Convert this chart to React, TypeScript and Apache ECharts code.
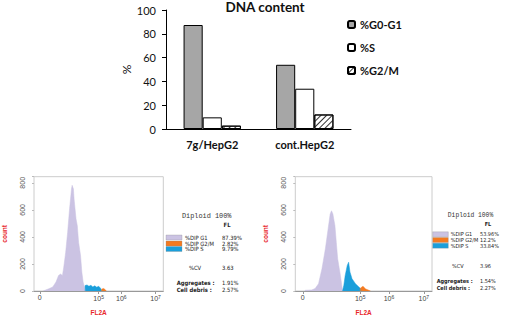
import React, { useEffect, useRef } from 'react';
import * as echarts from 'echarts';

// ---------- Bar chart data ----------
const categories = ['7g/HepG2', 'cont.HepG2'];
const seriesNames = ['%G0-G1', '%S', '%G2/M'];
const g0g1 = [87.39, 53.96];
const sPhase = [9.79, 33.84];
const g2m = [2.82, 12.2];

// ---------- Histogram data (channel, count) ----------
const leftG1: number[][] = [[14, 0], [22, 15], [29, 30], [34, 66], [38, 115], [41, 125], [44, 115], [46, 176], [49, 286], [52, 433], [55, 607], [58, 754], [59, 781], [61, 754], [62, 680], [65, 534], [67, 482], [69, 360], [72, 262], [74, 140], [76, 66], [78, 30], [79, 0]];
const leftS: number[][] = [[79, 0], [79, 40], [82, 45], [85, 35], [88, 42], [91, 30], [94, 38], [97, 28], [100, 35], [103, 20], [105, 0]];
const leftG2M: number[][] = [[104, 0], [105, 15], [108, 18], [111, 5], [112, 0]];

const rightG1: number[][] = [[14, 5], [24, 8], [29, 18], [34, 54], [39, 165], [44, 312], [48, 459], [51, 569], [53, 593], [55, 569], [58, 483], [60, 360], [62, 238], [66, 115], [69, 5], [70, 0]];
const rightS: number[][] = [[69, 0], [71, 42], [73, 115], [76, 189], [78, 213], [80, 140], [83, 91], [88, 54], [93, 30], [95, 20], [96, 0]];
const rightG2M: number[][] = [[95, 0], [95, 20], [99, 35], [103, 15], [110, 0]];

const histYTicks = [0, 200, 400, 600, 800];
const leftXTickValues = [9, 100, 135, 188];
const rightXTickValues = [11, 95, 137, 188];
const xTickLabels = ['0', '10{sup|5}', '10{sup|6}', '10{sup|7}'];

// ---------- Stats panels ----------
const diploidText = 'Diploid 100%';
const statLabels = ['%DIP G1', '%DIP G2/M', '%DIP S'];
const statColors = ['#cbc3e3', '#f47a20', '#1a9fdb'];
const leftStatValues = ['87.39%', '2.82%', '9.79%'];
const rightStatValues = ['53.96%', '12.2%', '33.84%'];
const cvLabel = '%CV';
const leftCv = '3.63';
const rightCv = '3.96';
const otherLabels = ['Aggregates :', 'Cell debris :'];
const leftOther = ['1.91%', '2.57%'];
const rightOther = ['1.54%', '2.27%'];

const SANS = 'Liberation Sans, Arial, sans-serif';
const NARROW = 'Liberation Sans Narrow, DejaVu Sans Condensed, sans-serif';
const MONO = 'Liberation Mono, DejaVu Sans Mono, monospace';
const BAR_FONT = 'Lato, Open Sans, sans-serif';

function panel(p: any, values: string[], cv: string, others: string[]) {
  const els: any[] = [];
  const small = { fontFamily: NARROW, fontSize: p.fs, lineHeight: 5, fill: '#222', verticalAlign: 'middle' };
  els.push({ type: 'text', x: p.diploidX, y: p.diploidY, style: { text: diploidText, fontFamily: MONO, fontSize: p.monoFs, fill: '#333', align: 'center', verticalAlign: 'middle' } });
  els.push({ type: 'text', x: p.flX, y: p.flY, style: { ...small, text: 'FL', fontWeight: 'bold', align: 'center' } });
  statLabels.forEach((lab, i) => {
    const y = p.rowY[i];
    els.push({ type: 'rect', shape: { x: p.rectX, y: y - 2.5, width: p.rectW, height: 5 }, style: { fill: statColors[i], stroke: '#888', lineWidth: 0.3 } });
    els.push({ type: 'text', x: p.labelX, y, style: { ...small, text: lab } });
    els.push({ type: 'text', x: p.valueX, y, style: { ...small, text: values[i] } });
  });
  els.push({ type: 'text', x: p.cvX, y: p.cvY, style: { ...small, text: cvLabel } });
  els.push({ type: 'text', x: p.valueX, y: p.cvY, style: { ...small, text: cv } });
  otherLabels.forEach((lab, i) => {
    const y = p.otherY[i];
    els.push({ type: 'text', x: p.otherX, y, style: { ...small, text: lab, fontWeight: 'bold' } });
    els.push({ type: 'text', x: p.valueX, y, style: { ...small, text: others[i] } });
  });
  return els;
}

function histX(gridIndex: number, tickValues: number[]) {
  return {
    type: 'value', gridIndex, min: 0, max: 200,
    axisLine: { show: true, lineStyle: { color: '#999', width: 1 } },
    axisTick: { show: true, customValues: tickValues, length: 3, lineStyle: { color: '#999' } },
    splitLine: { show: false },
    axisLabel: {
      customValues: tickValues, margin: 3, fontSize: 7, color: '#444', fontFamily: SANS,
      formatter: (v: number) => { const i = tickValues.indexOf(v); return i >= 0 ? xTickLabels[i] : ''; },
      rich: { sup: { fontSize: 5, color: '#444', verticalAlign: 'top', padding: [0, 0, 4, 0] } },
    },
    name: 'FL2A', nameLocation: 'middle', nameGap: 18,
    nameTextStyle: { color: '#e8262a', fontSize: 6.5, fontWeight: 'bold', fontFamily: SANS },
  };
}

function histY(gridIndex: number) {
  return {
    type: 'value', gridIndex, min: 0, max: 845, interval: 200,
    axisLine: { show: false }, axisTick: { show: true, length: 2, lineStyle: { color: '#bbb' } },
    splitLine: { show: false },
    axisLabel: { rotate: 90, margin: 8, fontSize: 7, color: '#555', fontFamily: SANS, customValues: histYTicks },
    name: 'count', nameLocation: 'middle', nameGap: 26, nameRotate: 90,
    nameTextStyle: { color: '#e8262a', fontSize: 6.5, fontWeight: 'bold', fontFamily: SANS },
  };
}

function areaSeries(name: string, data: number[][], color: string, idx: number) {
  return {
    name, type: 'line', xAxisIndex: idx, yAxisIndex: idx, data, showSymbol: false, symbol: 'none',
    lineStyle: { width: 0.5, color }, areaStyle: { color, opacity: 1 }, z: 3,
  };
}

export default function App() {
  const ref = useRef<HTMLDivElement>(null);
  useEffect(() => {
    if (!ref.current) return;
    const chart = echarts.init(ref.current, null, { renderer: 'svg' });
    const leftPanel = panel({ fs: 5.8, monoFs: 6.9, diploidX: 206.7, diploidY: 215.7, flX: 227, flY: 225, rectX: 166, rectW: 16, rowY: [237.5, 243.5, 249], labelX: 185, valueX: 222, cvX: 189, cvY: 267.5, otherX: 176.7, otherY: [283, 290] }, leftStatValues, leftCv, leftOther);
    const rightPanel = panel({ fs: 5.5, monoFs: 6.3, diploidX: 470.5, diploidY: 215, flX: 488, flY: 224, rectX: 432.7, rectW: 15.6, rowY: [234.3, 240, 245.7], labelX: 450.7, valueX: 480, cvX: 452, cvY: 265.7, otherX: 436.7, otherY: [280.5, 288.3] }, rightStatValues, rightCv, rightOther);
    chart.setOption({
      animation: false,
      backgroundColor: '#fff',
      grid: [
        { left: 166, top: 10, width: 185, height: 119 },
        { left: 30.7, top: 176.7, width: 132.6, height: 115.3, show: true, borderColor: '#ccc', borderWidth: 1 },
        { left: 295.3, top: 176.7, width: 136.7, height: 115.3, show: true, borderColor: '#ccc', borderWidth: 1 },
      ],
      legend: {
        data: seriesNames, orient: 'vertical', left: 342, top: 14, itemWidth: 7, itemHeight: 7, itemGap: 12,
        textStyle: { fontFamily: BAR_FONT, fontWeight: 'bold', fontSize: 11, color: '#111' },
      },
      graphic: [
        { type: 'text', x: 265, y: 0, style: { text: 'DNA content', fontFamily: BAR_FONT, fontWeight: 'bold', fontSize: 13.5, fill: '#111', align: 'center' } },
        ...leftPanel, ...rightPanel,
      ],
      xAxis: [
        {
          type: 'category', gridIndex: 0, data: categories,
          axisLine: { lineStyle: { color: '#000', width: 1 } }, axisTick: { show: false },
          axisLabel: { fontFamily: BAR_FONT, fontWeight: 'bold', fontSize: 11, color: '#111', margin: 10 },
        },
        histX(1, leftXTickValues),
        histX(2, rightXTickValues),
      ],
      yAxis: [
        {
          type: 'value', gridIndex: 0, min: 0, max: 100, interval: 20,
          axisLine: { show: true, lineStyle: { color: '#000', width: 1 } },
          axisTick: { show: true, length: 4, lineStyle: { color: '#000' } },
          splitLine: { show: false },
          axisLabel: { fontFamily: BAR_FONT, fontSize: 11, color: '#111', margin: 10 },
          name: '%', nameLocation: 'middle', nameGap: 26, nameRotate: 90,
          nameTextStyle: { fontFamily: BAR_FONT, fontSize: 12, color: '#111' },
        },
        histY(1),
        histY(2),
      ],
      series: [
        { name: seriesNames[0], type: 'bar', xAxisIndex: 0, yAxisIndex: 0, data: g0g1, barGap: '0%', barCategoryGap: '38%', itemStyle: { color: '#a6a6a6', borderColor: '#000', borderWidth: 1 } },
        { name: seriesNames[1], type: 'bar', xAxisIndex: 0, yAxisIndex: 0, data: sPhase, itemStyle: { color: '#fff', borderColor: '#000', borderWidth: 1 } },
        {
          name: seriesNames[2], type: 'bar', xAxisIndex: 0, yAxisIndex: 0, data: g2m,
          itemStyle: {
            color: '#fff', borderColor: '#000', borderWidth: 1,
            decal: { symbol: 'rect', symbolSize: 1, dashArrayX: [1, 0], dashArrayY: [1, 3], rotation: -Math.PI / 4, color: '#333', backgroundColor: '#fff' },
          },
        },
        areaSeries('lG1', leftG1, statColors[0], 1),
        areaSeries('lS', leftS, statColors[2], 1),
        areaSeries('lG2M', leftG2M, statColors[1], 1),
        areaSeries('rG1', rightG1, statColors[0], 2),
        areaSeries('rS', rightS, statColors[2], 2),
        areaSeries('rG2M', rightG2M, statColors[1], 2),
      ],
    });
    return () => chart.dispose();
  }, []);
  return <div ref={ref} style={{ position: 'fixed', left: 0, top: 0, width: 512, height: 317 }} />;
}
